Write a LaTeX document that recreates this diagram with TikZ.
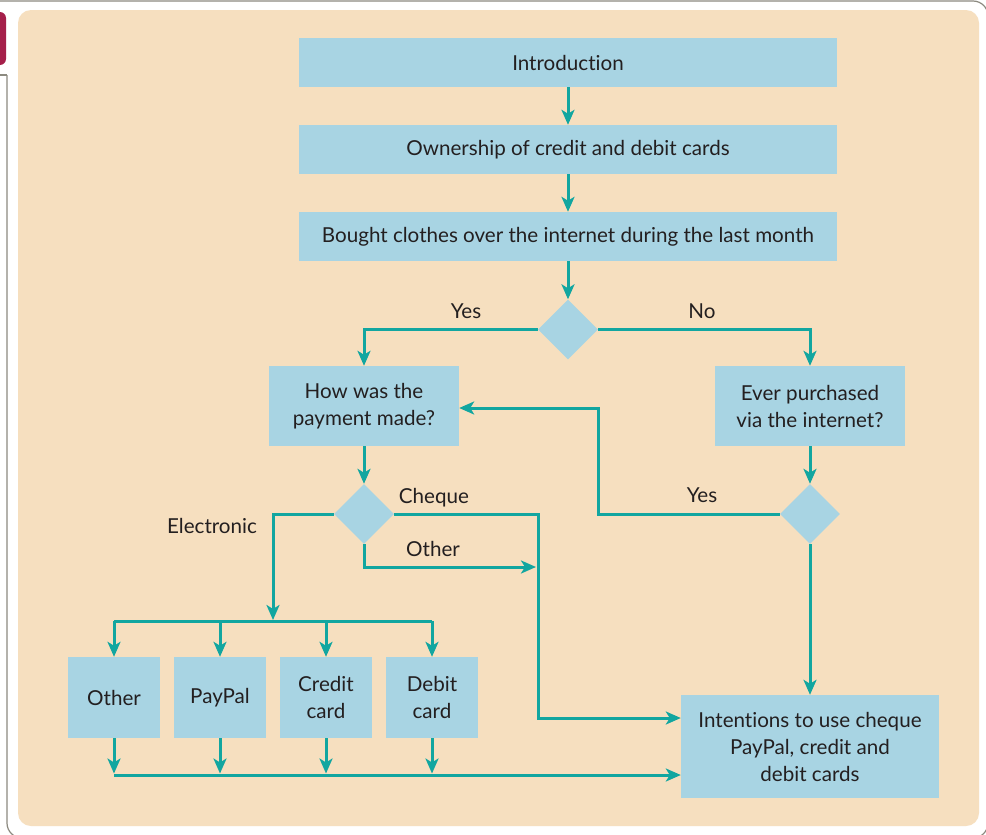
\documentclass[tikz,border=0pt]{standalone}
\usepackage{fontspec}
\setmainfont{Lato}[Ligatures={NoCommon}]
\usetikzlibrary{arrows.meta}
\usetikzlibrary{shapes.geometric}
\definecolor{peach}{HTML}{F6DFBF}
\definecolor{boxblue}{HTML}{A8D4E3}
\definecolor{flowteal}{HTML}{12A6A0}
\definecolor{tabred}{HTML}{A51F4A}
\definecolor{framegray}{HTML}{8C8A80}
\definecolor{txtdark}{HTML}{231F20}

\begin{document}
\begin{tikzpicture}[x=1pt,y=-1pt,
    box/.style={fill=boxblue,text=txtdark,align=center,inner sep=0pt,
        font=\fontsize{20.6}{27}\selectfont},
    decision/.style={diamond,fill=boxblue,minimum width=60pt,minimum height=60pt,inner sep=0pt},
    lbl/.style={text=txtdark,anchor=base,inner sep=0pt,font=\fontsize{20.6}{27}\selectfont},
    flow/.style={draw=flowteal,line width=3pt,-{Stealth[length=15pt,width=13pt,inset=4pt]}},
    line/.style={draw=flowteal,line width=3pt}]
    \useasboundingbox (0,0) rectangle (986,835);
    \fill[white] (0,0) rectangle (986,835);
    \draw[framegray,line width=1.2pt] (0,75) -- (7,75);
    \draw[framegray,line width=1.2pt,rounded corners=15pt] (7,75) -- (7,838) -- (988,838) -- (988,1) -- (0,1);
    \fill[tabred,rounded corners=6pt] (-10,12) rectangle (6,65);
    \fill[peach,rounded corners=13pt] (18,10) rectangle (979,826);

    \node[box,minimum width=538pt,minimum height=49pt] (intro) at (568,62.5) {Introduction};
    \node[box,minimum width=538pt,minimum height=49pt] (owner) at (568,149.5) {Ownership of credit and debit cards};
    \node[box,minimum width=538pt,minimum height=49pt] (bought) at (568,236.5) {Bought clothes over the internet during the last month};
    \node[decision] (dec1) at (568,329.5) {};
    \node[box,minimum width=190pt,minimum height=80pt] (howpay) at (364,406) {How was the\\payment made?};
    \node[box,minimum width=190pt,minimum height=80pt] (ever) at (810,406) {Ever purchased\\via the internet?};
    \node[decision] (dec2) at (364,514) {};
    \node[decision] (dec3) at (810,514) {};
    \node[box,minimum width=92pt,minimum height=81pt] (oth) at (114,697.5) {Other};
    \node[box,minimum width=92pt,minimum height=81pt] (pay) at (220,697.5) {PayPal};
    \node[box,minimum width=92pt,minimum height=81pt] (cred) at (326,697.5) {Credit\\card};
    \node[box,minimum width=92pt,minimum height=81pt] (deb) at (432,697.5) {Debit\\card};
    \node[box,minimum width=258pt,minimum height=103pt] (intent) at (810,746.5) {Intentions to use cheque\\PayPal, credit and\\debit cards};

    \node[lbl] (yesa) at (466,318) {Yes};
    \node[lbl] (noa) at (702,318) {No};
    \node[lbl] (yesb) at (702,502) {Yes};
    \node[lbl] (cheque) at (434,503) {Cheque};
    \node[lbl] (other) at (433,556) {Other};
    \node[lbl] (electronic) at (212,533) {Electronic};

    \coordinate (yesturn) at (598,514);
    \coordinate (chqturn) at (538,514);
    \coordinate (othend) at (536,567);
    \coordinate (bus) at (273,621);
    \coordinate (collect) at (0,775);

    \draw[flow] (intro) -- (owner);
    \draw[flow] (owner) -- (bought);
    \draw[flow] (bought) -- (dec1);
    \draw[flow] (dec1.west) -| (howpay);
    \draw[flow] (dec1.east) -| (ever);
    \draw[flow] (howpay) -- (dec2);
    \draw[flow] (ever) -- (dec3);
    \draw[flow] (dec3) -- (intent);
    \draw[flow] (dec3.west) -- (yesturn) |- ([yshift=-2pt]howpay.east);
    \draw[flow] (dec2.east) -- (chqturn) |- ([yshift=28.5pt]intent.west);
    \draw[flow] (dec2.south) |- (othend);
    \draw[flow] (dec2.west) -| ([yshift=1pt]bus);
    \draw[line] (oth|-bus) -- (deb|-bus);
    \foreach \n in {oth,pay,cred,deb} {
        \draw[flow] (\n|-bus) -- (\n);
        \draw[flow] (\n) -- ([yshift=1.5pt]\n|-collect);
    }
    \draw[flow] (oth|-collect) -- (intent.west|-collect);
\end{tikzpicture}
\end{document}
